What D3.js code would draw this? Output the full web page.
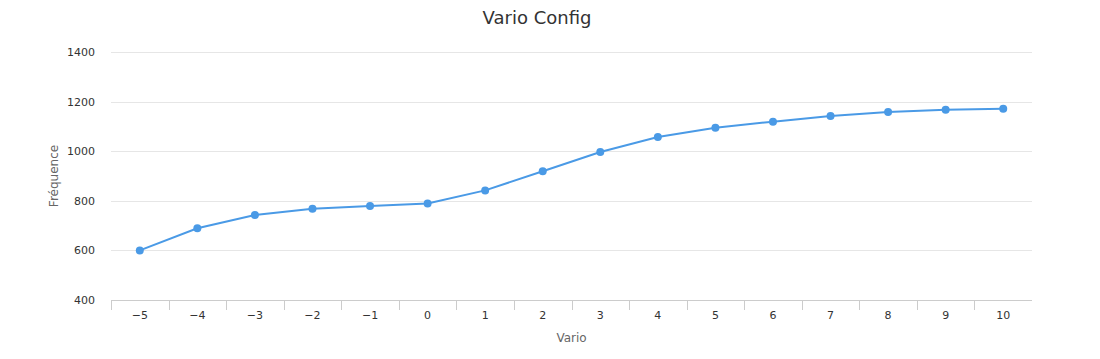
<!DOCTYPE html>
<html><head><meta charset="utf-8">
<script src="https://cdn.jsdelivr.net/npm/d3@7"></script>
<style>body{margin:0;background:#fff;} text{font-family:"DejaVu Sans",Verdana,sans-serif;}</style>
</head><body><svg id="c" width="1100" height="359"></svg>
<script>
const categories = ["-5","-4","-3","-2","-1","0","1","2","3","4","5","6","7","8","9","10"];
const values = [600,689,743,768,779,789,842,919,997,1057,1095,1119,1142,1158,1167,1171];
const yTicks = [400,600,800,1000,1200,1400];

const svg = d3.select("#c");
const L=111, R=1032, T=52, B=300;
const x = d3.scaleBand().domain(categories).range([L,R]);
const y = d3.scaleLinear().domain([400,1400]).range([B,T]);

svg.append("text").attr("x",537).attr("y",24).attr("text-anchor","middle")
  .attr("font-size",18).attr("fill","#333").text("Vario Config");

// grid
svg.append("g").selectAll("line").data(yTicks.slice(1)).join("line")
  .attr("x1",L).attr("x2",R).attr("y1",d=>Math.round(y(d))+0.5).attr("y2",d=>Math.round(y(d))+0.5)
  .attr("stroke","#e6e6e6");

const ya = svg.append("g").attr("transform",`translate(${L},0)`)
  .call(d3.axisLeft(y).tickValues(yTicks).tickSize(0).tickPadding(16).tickFormat(d3.format("d")));
ya.select(".domain").remove();
ya.selectAll("text").attr("font-size",11).attr("fill","#333").attr("font-family","DejaVu Sans");

const xa = svg.append("g").attr("transform",`translate(0,${B+0.5})`)
  .call(d3.axisBottom(x).tickSize(0).tickPadding(11).tickFormat(d=>d.replace("-","\u2212")));
xa.select(".domain").attr("stroke","#cccccc").attr("d",`M${L},0H${R}`);
xa.selectAll("text").attr("font-size",11).attr("fill","#333").attr("font-family","DejaVu Sans");
// tick marks at band boundaries
svg.append("g").selectAll("line").data(categories).join("line")
  .attr("x1",d=>Math.round(x(d))+0.5).attr("x2",d=>Math.round(x(d))+0.5)
  .attr("y1",B).attr("y2",B+10).attr("stroke","#cccccc");

svg.append("text").attr("x",(L+R)/2).attr("y",342).attr("text-anchor","middle")
  .attr("font-size",12).attr("fill","#666").text("Vario");
svg.append("text").attr("transform",`translate(58,${(T+B)/2}) rotate(-90)`).attr("text-anchor","middle")
  .attr("font-size",12).attr("fill","#666").text("Fréquence");

const cx = d=>x(d)+x.bandwidth()/2;
svg.append("path").datum(values)
  .attr("d",d3.line().x((d,i)=>cx(categories[i])).y(d=>y(d)))
  .attr("fill","none").attr("stroke","#4a9ae6").attr("stroke-width",2);
svg.append("g").selectAll("circle").data(values).join("circle")
  .attr("cx",(d,i)=>cx(categories[i])).attr("cy",d=>y(d)).attr("r",4).attr("fill","#4a9ae6");
</script></body></html>
